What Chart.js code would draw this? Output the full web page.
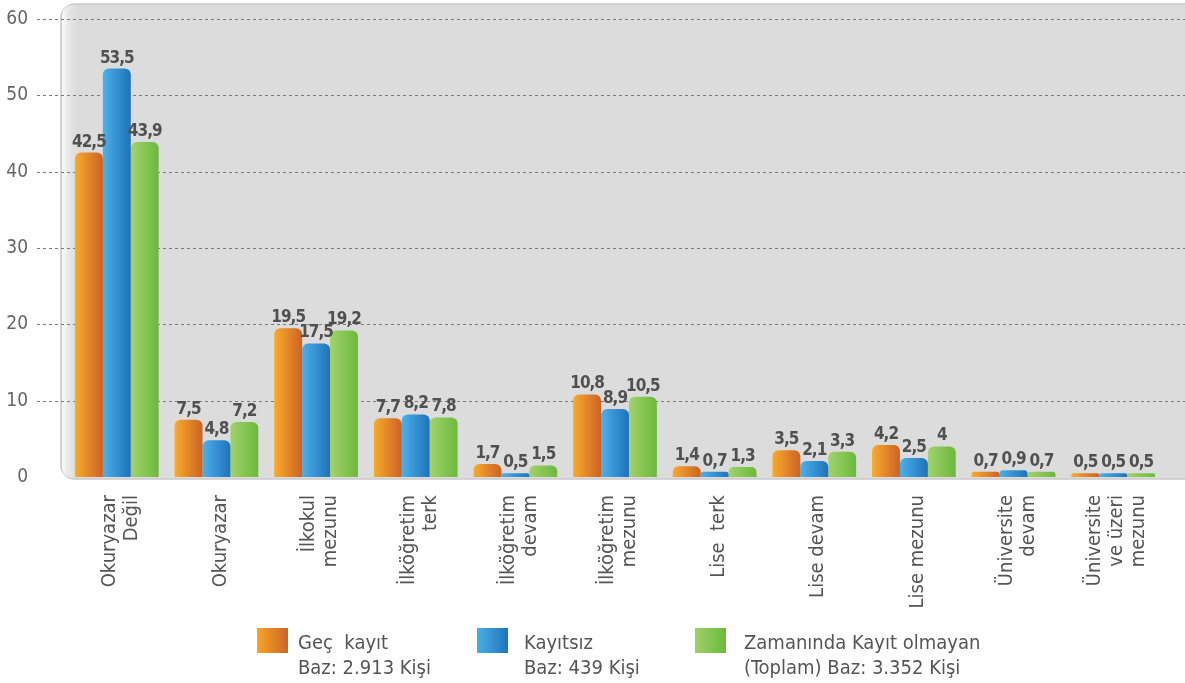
<!DOCTYPE html>
<html>
<head>
<meta charset="utf-8">
<script src="https://cdn.jsdelivr.net/npm/chart.js@4"></script>
<style>
  html, body { margin: 0; padding: 0; background: #fff; }
  #wrap { position: relative; width: 1185px; height: 683px; }
  #legend { position: absolute; top: 630px; left: 0; width: 1185px; height: 53px; font-family: "DejaVu Sans Condensed", "DejaVu Sans", sans-serif; font-size: 20px; color: #555; }
  .box { position: absolute; top: -2px; width: 31px; height: 25px; }
  .txt { position: absolute; top: 0; white-space: pre; line-height: 25px; }
</style>
</head>
<body>
<div id="wrap">
  <canvas id="chart" width="1185" height="683"></canvas>
  <div id="legend"></div>
</div>
<script>
const categories = [
  ['Okuryazar', 'Değil'],
  ['Okuryazar'],
  ['İlkokul', 'mezunu'],
  ['İlköğretim', 'terk'],
  ['İlköğretim', 'devam'],
  ['İlköğretim', 'mezunu'],
  ['Lise  terk'],
  ['Lise devam'],
  ['Lise mezunu'],
  ['Üniversite', 'devam'],
  ['Üniversite', 've üzeri', 'mezunu']
];
const gecKayit = [42.5, 7.5, 19.5, 7.7, 1.7, 10.8, 1.4, 3.5, 4.2, 0.7, 0.5];
const kayitsiz = [53.5, 4.8, 17.5, 8.2, 0.5, 8.9, 0.7, 2.1, 2.5, 0.9, 0.5];
const zamaninda = [43.9, 7.2, 19.2, 7.8, 1.5, 10.5, 1.3, 3.3, 4, 0.7, 0.5];
const yTicks = [0, 10, 20, 30, 40, 50, 60];

const legendItems = [
  { lines: ['Geç  kayıt', 'Baz: 2.913 Kişi'], c1: '#f6a52a', c2: '#cf6424', box: 257, text: 298 },
  { lines: ['Kayıtsız', 'Baz: 439 Kişi'], c1: '#4aaee6', c2: '#1f74bd', box: 477, text: 524 },
  { lines: ['Zamanında Kayıt olmayan', '(Toplam) Baz: 3.352 Kişi'], c1: '#9fd06a', c2: '#6cba3c', box: 695, text: 744 }
];

const legend = document.getElementById('legend');
legendItems.forEach(function(it) {
  const b = document.createElement('div');
  b.className = 'box';
  b.style.left = it.box + 'px';
  b.style.background = 'linear-gradient(to right, ' + it.c1 + ', ' + it.c2 + ')';
  legend.appendChild(b);
  const t = document.createElement('div');
  t.className = 'txt';
  t.style.left = it.text + 'px';
  t.textContent = it.lines.join('\n');
  legend.appendChild(t);
});

function barFill(c1, c2) {
  return function(context) {
    const el = context.element;
    if (!el || !isFinite(el.x) || !isFinite(el.width)) return c1;
    const g = context.chart.ctx.createLinearGradient(el.x - el.width / 2, 0, el.x + el.width / 2, 0);
    g.addColorStop(0, c1);
    g.addColorStop(1, c2);
    return g;
  };
}

// gray panel behind the bars plus dashed grid lines
const panelPlugin = {
  id: 'panel',
  beforeDatasetsDraw(chart) {
    const ctx = chart.ctx;
    const y = chart.scales.y;
    ctx.save();
    ctx.beginPath();
    ctx.roundRect(61, 4, 1140, 475, 14);
    ctx.fillStyle = '#dcdcdc';
    ctx.fill();
    ctx.strokeStyle = '#c9c9c9';
    ctx.lineWidth = 1.5;
    ctx.stroke();
    const hl = ctx.createLinearGradient(62, 0, 80, 0);
    hl.addColorStop(0, 'rgba(250,250,250,1)');
    hl.addColorStop(1, 'rgba(220,220,220,0)');
    ctx.beginPath();
    ctx.roundRect(62, 5, 20, 473, 12);
    ctx.fillStyle = hl;
    ctx.fill();
    ctx.setLineDash([3, 3]);
    ctx.strokeStyle = '#7a7a7a';
    ctx.lineWidth = 1;
    yTicks.forEach(function(v) {
      if (v === 0) return;
      const py = Math.round(y.getPixelForValue(v)) + 0.5;
      ctx.beginPath();
      ctx.moveTo(37, py);
      ctx.lineTo(1185, py);
      ctx.stroke();
    });
    ctx.restore();
  },
  afterDatasetsDraw(chart) {
    const ctx = chart.ctx;
    ctx.save();
    // value labels
    ctx.font = 'bold 17px "DejaVu Sans Condensed", "DejaVu Sans", sans-serif';
    ctx.letterSpacing = '-1px';
    ctx.fillStyle = '#505050';
    ctx.textAlign = 'center';
    ctx.textBaseline = 'bottom';
    chart.data.datasets.forEach(function(ds, di) {
      chart.getDatasetMeta(di).data.forEach(function(bar, i) {
        ctx.fillText(String(ds.data[i]).replace('.', ','), bar.x, bar.y - 2);
      });
    });
    ctx.letterSpacing = '0px';
    // category labels, rotated and centred on the group
    const x = chart.scales.x;
    ctx.font = '20px "DejaVu Sans Condensed", "DejaVu Sans", sans-serif';
    ctx.fillStyle = '#555';
    ctx.textAlign = 'right';
    ctx.textBaseline = 'middle';
    const lh = 22;
    categories.forEach(function(lines, i) {
      const cx = x.getPixelForValue(i) + 4;
      const start = cx - (lines.length - 1) * lh / 2;
      lines.forEach(function(line, li) {
        ctx.save();
        ctx.translate(start + li * lh, 495);
        ctx.rotate(-Math.PI / 2);
        ctx.fillText(line, 0, 0);
        ctx.restore();
      });
    });
    ctx.restore();
  }
};

const ctx = document.getElementById('chart').getContext('2d');
const chart = new Chart(ctx, {
  type: 'bar',
  data: {
    labels: categories.map(function(c) { return c.join(' '); }),
    datasets: [
      { label: 'Geç kayıt', data: gecKayit, backgroundColor: barFill('#f7ab2c', '#cd6224') },
      { label: 'Kayıtsız', data: kayitsiz, backgroundColor: barFill('#4db0e8', '#1e72bb') },
      { label: 'Zamanında Kayıt olmayan', data: zamaninda, backgroundColor: barFill('#a2d26e', '#6bb93b') }
    ]
  },
  options: {
    responsive: false,
    animation: false,
    layout: { padding: { top: 19, right: 22, bottom: 206, left: 0 } },
    datasets: {
      bar: {
        categoryPercentage: 0.84,
        barPercentage: 1,
        borderRadius: { topLeft: 6, topRight: 6, bottomLeft: 0, bottomRight: 0 },
        borderSkipped: 'bottom'
      }
    },
    plugins: {
      legend: { display: false },
      tooltip: { enabled: false }
    },
    scales: {
      x: { display: false },
      y: {
        min: 0,
        max: 60,
        afterFit: function(scale) {
          scale.width = 67;
          scale.paddingTop = 10;
          scale.paddingBottom = 10;
        },
        afterBuildTicks: function(scale) { scale.ticks = yTicks.map(function(v) { return { value: v }; }); },
        grid: { display: false, drawTicks: false },
        border: { display: false },
        ticks: {
          padding: 39,
          color: '#666',
          font: { family: '"DejaVu Sans Condensed", "DejaVu Sans", sans-serif', size: 19 }
        }
      }
    }
  },
  plugins: [panelPlugin]
});
chart.update();
</script>
</body>
</html>
